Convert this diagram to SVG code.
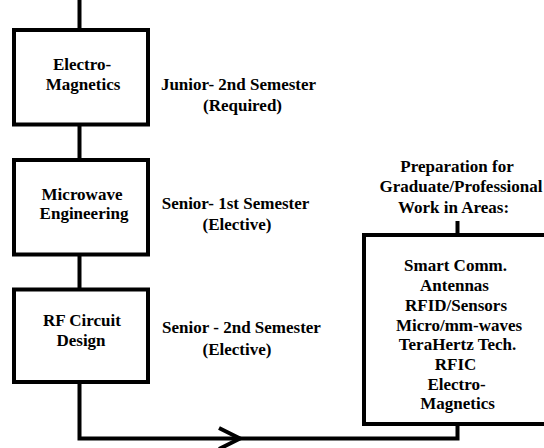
<svg xmlns="http://www.w3.org/2000/svg" width="544" height="448" viewBox="0 0 544 448">
<style>
.box{fill:#fff;stroke:#000;stroke-width:4}
.ln{fill:none;stroke:#000;stroke-width:4}
text{font-family:"Liberation Serif","Times New Roman",serif;font-weight:bold;font-size:17px;fill:#000;text-anchor:middle}
</style>
<rect width="544" height="448" fill="#fff"/>
<g id="connectors">
<path class="ln" d="M79.5,0 V30"/>
<path class="ln" d="M79.5,124.5 V160"/>
<path class="ln" d="M79.5,254.5 V289.5"/>
<path class="ln" d="M79.5,382 V438.5 H457.5 V424"/>
<path class="ln" d="M457.5,235 V221"/>
<path class="ln" d="M219,428 L240,438.5 L219,449"/>
</g>
<g id="electromagnetics">
<rect class="box" x="14" y="30" width="134" height="94.5"/>
<text x="82" y="70">Electro-</text>
<text x="83" y="90">Magnetics</text>
</g>
<g id="microwave">
<rect class="box" x="14" y="160" width="134" height="94.5"/>
<text x="82" y="200">Microwave</text>
<text x="84" y="219">Engineering</text>
</g>
<g id="rfcircuit">
<rect class="box" x="14" y="289.5" width="134" height="92.5"/>
<text x="82" y="326">RF Circuit</text>
<text x="81" y="346">Design</text>
</g>
<g id="label-junior">
<text x="238.5" y="90">Junior- 2nd Semester</text>
<text x="242.5" y="111">(Required)</text>
</g>
<g id="label-senior1">
<text x="235.5" y="209">Senior- 1st Semester</text>
<text x="237" y="230">(Elective)</text>
</g>
<g id="label-senior2">
<text x="241.5" y="333">Senior - 2nd Semester</text>
<text x="237" y="355">(Elective)</text>
</g>
<g id="label-preparation">
<text x="457" y="172">Preparation for</text>
<text x="461" y="192">Graduate/Professional</text>
<text x="453.5" y="213">Work in Areas:</text>
</g>
<g id="areas">
<rect class="box" x="364" y="235" width="200" height="189"/>
<text x="455.5" y="271">Smart Comm.</text>
<text x="454.5" y="291">Antennas</text>
<text x="456" y="311">RFID/Sensors</text>
<text x="459" y="331">Micro/mm-waves</text>
<text x="457.5" y="350">TeraHertz Tech.</text>
<text x="455.5" y="370">RFIC</text>
<text x="456.5" y="390">Electro-</text>
<text x="457.5" y="409">Magnetics</text>
</g>
</svg>
